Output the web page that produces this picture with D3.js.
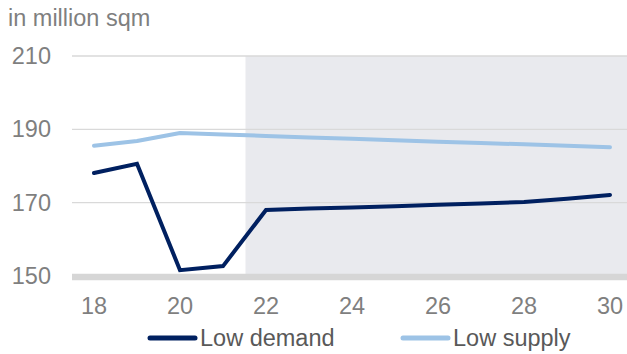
<!DOCTYPE html>
<html>
<head>
<meta charset="UTF-8" />
<style>
    body { margin: 0; background: #fff; }
    svg text { font-family: "Liberation Sans", Arial, sans-serif; fill: #7f7f7f; }
</style>
<script src="https://d3js.org/d3.v7.min.js"></script>
</head>
<body>
<svg width="627" height="354"></svg>
<script>
    var years = [18, 19, 20, 21, 22, 23, 24, 25, 26, 27, 28, 29, 30];
    var lowDemand = [178.1, 180.6, 151.6, 152.7, 168.0, 168.4, 168.7, 169.0, 169.4, 169.8, 170.2, 171.1, 172.1];
    var lowSupply = [185.5, 186.8, 189.0, 188.6, 188.2, 187.8, 187.4, 187.0, 186.6, 186.3, 185.9, 185.5, 185.1];
    var xTicks = [18, 20, 22, 24, 26, 28, 30];
    var yTicks = [150, 170, 190, 210];
    var forecastFrom = 21.5;

    var svg = d3.select("svg");
    var left = 72, right = 627;

    var x = d3.scaleLinear().domain([18, 30]).range([94, 610]);
    var y = d3.scaleLinear().domain([150, 210]).range([276, 56]);

    // forecast shading
    svg.append("rect")
       .attr("x", x(forecastFrom) + 1)
       .attr("y", y(210))
       .attr("width", right - x(forecastFrom))
       .attr("height", y(150) - y(210))
       .attr("fill", "#e9eaee");

    // gridlines
    svg.selectAll(".grid")
       .data(yTicks.slice(1))
       .enter().append("line")
       .attr("x1", left).attr("x2", right)
       .attr("y1", function(d) { return y(d); })
       .attr("y2", function(d) { return y(d); })
       .attr("stroke", "#d9d9d9")
       .attr("stroke-width", 1.3);

    // baseline
    svg.append("line")
       .attr("x1", left).attr("x2", right)
       .attr("y1", y(150) + 1).attr("y2", y(150) + 1)
       .attr("stroke", "#d6d6d6")
       .attr("stroke-width", 6.5);

    // y labels
    svg.selectAll(".ylab")
       .data(yTicks)
       .enter().append("text")
       .attr("x", 51)
       .attr("y", function(d) { return y(d) + 8; })
       .attr("text-anchor", "end")
       .style("font-size", "23.5px")
       .text(function(d) { return d; });

    // x labels
    svg.selectAll(".xlab")
       .data(xTicks)
       .enter().append("text")
       .attr("x", function(d) { return x(d); })
       .attr("y", 314)
       .attr("text-anchor", "middle")
       .style("font-size", "23.5px")
       .text(function(d) { return d; });

    svg.append("text")
       .attr("x", 8).attr("y", 26)
       .style("font-size", "23.5px")
       .text("in million sqm");

    var line = d3.line()
                 .x(function(d, i) { return x(years[i]); })
                 .y(function(d) { return y(d); });

    svg.append("path")
       .datum(lowSupply)
       .attr("d", line)
       .attr("fill", "none")
       .attr("stroke", "#9dc3e6")
       .attr("stroke-width", 4)
       .attr("stroke-linecap", "round")
       .attr("stroke-linejoin", "round");

    svg.append("path")
       .datum(lowDemand)
       .attr("d", line)
       .attr("fill", "none")
       .attr("stroke", "#002060")
       .attr("stroke-width", 4)
       .attr("stroke-linecap", "round")
       .attr("stroke-linejoin", "miter");

    // legend
    var legend = [
        {name: "Low demand", color: "#002060", x: 150},
        {name: "Low supply", color: "#9dc3e6", x: 403}
    ];
    var lg = svg.selectAll(".legend")
                .data(legend)
                .enter().append("g");
    lg.append("line")
      .attr("x1", function(d) { return d.x; })
      .attr("x2", function(d) { return d.x + 45; })
      .attr("y1", 338).attr("y2", 338)
      .attr("stroke", function(d) { return d.color; })
      .attr("stroke-width", 5)
      .attr("stroke-linecap", "round");
    lg.append("text")
      .attr("x", function(d) { return d.x + 50; })
      .attr("y", 346)
      .style("font-size", "23.5px")
      .style("fill", "#595959")
      .text(function(d) { return d.name; });
</script>
</body>
</html>
